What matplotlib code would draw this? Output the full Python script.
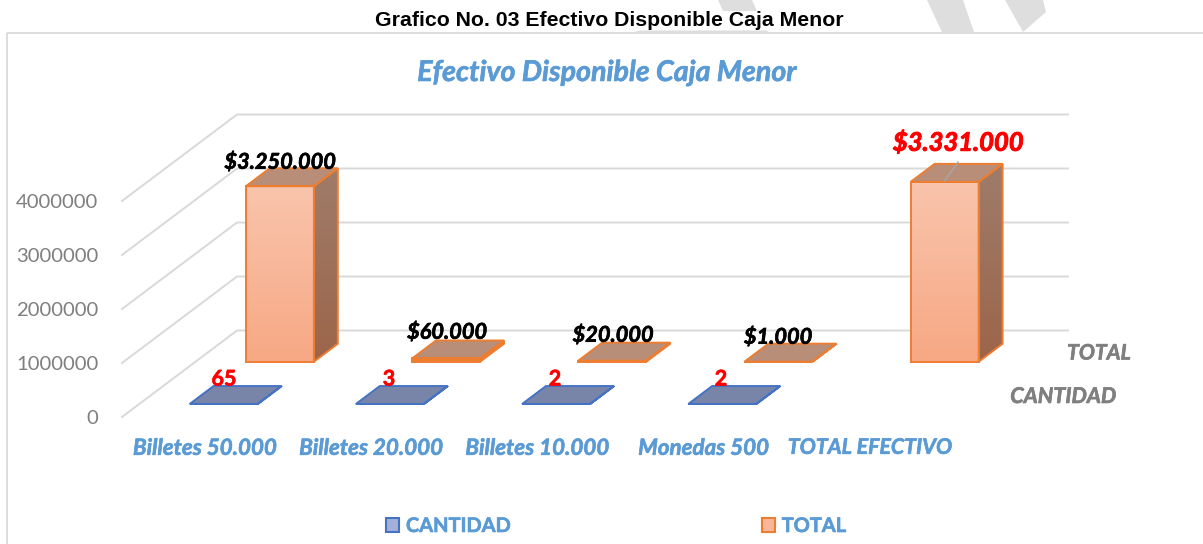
import numpy as np
import matplotlib
matplotlib.use("Agg")
import matplotlib.pyplot as plt
import matplotlib.patheffects as pe
from matplotlib.patches import Polygon, Patch
from matplotlib.colors import LinearSegmentedColormap
from matplotlib.transforms import IdentityTransform

# ---- data ----
categories = ["Billetes 50.000", "Billetes 20.000", "Billetes 10.000", "Monedas 500", "TOTAL EFECTIVO"]
cantidad = [65, 3, 2, 2]
total = [3250000, 60000, 20000, 1000, 3331000]
total_labels = ["$3.250.000", "$60.000", "$20.000", "$1.000", "$3.331.000"]
cantidad_labels = ["65", "3", "2", "2"]
y_ticks = [0, 1000000, 2000000, 3000000, 4000000]
series_names = ["CANTIDAD", "TOTAL"]
title_top = "Grafico No. 03 Efectivo Disponible Caja Menor"
title_chart = "Efectivo Disponible Caja Menor"

W, H = 1203, 544
FONT = "Lato"
BLUE_TXT = "#5B9BD5"
GRAY_TXT = "#7F7F7F"
GRID = "#D9D9D9"


def heavy(color, w=0.45):
    return [pe.withStroke(linewidth=w, foreground=color)]


fig = plt.figure(figsize=(W / 100, H / 100), dpi=100, facecolor="white")

# plot plane (front of the oblique box) in pixels
PX_L, PX_R, PX_BOT, PX_TOP = 122, 953, 417, 201
ax = fig.add_axes([PX_L / W, 1 - PX_BOT / H, (PX_R - PX_L) / W, (PX_BOT - PX_TOP) / H])
ax.set_xlim(0, 5)
ax.set_ylim(0, 4000000)
ax.patch.set_alpha(0)
for s in ax.spines.values():
    s.set_visible(False)

UX = (PX_R - PX_L) / 5            # px per category
UY = (PX_BOT - PX_TOP) / 4000000  # px per value unit
DEPTH_X, DEPTH_Y = 115 / UX, 86.5 / UY


def proj(c, d, v):
    """oblique projection of (category pos, depth 0..1, value) to data coords"""
    return (c + d * DEPTH_X, v + d * DEPTH_Y)


# watermark and frame (page decoration, pixel coordinates)
def px_poly(pts, **kw):
    pts = [(x, H - y) for x, y in pts]
    fig.add_artist(Polygon(pts, closed=True, transform=IdentityTransform(), **kw))


wm = dict(facecolor="#DEDEDE", edgecolor="none", zorder=20)
px_poly([(7, 33), (W + 5, 33), (W + 5, H + 5), (7, H + 5)],
        facecolor="none", edgecolor="#DADADA", linewidth=1.3, zorder=-2)
px_poly([(927, 0), (963, 0), (974, 32), (942, 32)], **wm)
px_poly([(1005, 0), (1043, 0), (1046, 12), (1023, 32)], **wm)
# the piece behind the title is drawn only above and below the lettering
px_poly([(718, 0), (752, 0), (757, 11), (723, 11)], **wm)
px_poly([(640, 30.5), (767, 30.5), (768, 32), (634, 32)], **wm)

# grid: back wall + side wall
for v in y_ticks:
    a = proj(0, 0, v); b = proj(0, 1, v); c = proj(5, 1, v)
    ax.plot([a[0], b[0], c[0]], [a[1], b[1], c[1]], color=GRID, lw=1.4,
            clip_on=False, zorder=1, solid_joinstyle="miter")


def gradient_face(pts, top, bottom, zorder):
    cmap = LinearSegmentedColormap.from_list("g", [bottom, top])
    xs, ys = zip(*pts)
    im = ax.imshow(np.linspace(0, 1, 128).reshape(-1, 1), cmap=cmap, origin="lower",
                   extent=(min(xs), max(xs), min(ys), max(ys)), aspect="auto",
                   zorder=zorder, interpolation="bilinear")
    poly = Polygon(pts, closed=True, transform=ax.transData)
    im.set_clip_path(poly)
    im.set_clip_box(fig.bbox)


def bar3d(i, value, d0, d1, front, side, topc, edge, zorder):
    bw = 68 / UX
    c0 = i + (1 - bw) / 2 + 1.3 / UX
    c1 = c0 + bw
    f = [proj(c0, d0, 0), proj(c1, d0, 0), proj(c1, d0, value), proj(c0, d0, value)]
    s = [proj(c1, d0, 0), proj(c1, d1, 0), proj(c1, d1, value), proj(c1, d0, value)]
    t = [proj(c0, d0, value), proj(c1, d0, value), proj(c1, d1, value), proj(c0, d1, value)]
    if value > 100000:
        gradient_face(f, front[0], front[1], zorder)
        gradient_face(s, side[0], side[1], zorder)
    else:
        ax.add_patch(Polygon(f, closed=True, facecolor=edge, edgecolor="none", zorder=zorder, clip_on=False))
        ax.add_patch(Polygon(s, closed=True, facecolor=edge, edgecolor="none", zorder=zorder, clip_on=False))
    ax.add_patch(Polygon(t, closed=True, facecolor=topc, edgecolor="none", zorder=zorder, clip_on=False))
    for pts in (f, s, t):
        ax.add_patch(Polygon(pts, closed=True, fill=False, edgecolor=edge, lw=1.4,
                             zorder=zorder + 0.1, clip_on=False, joinstyle="miter"))


for i, v in enumerate(total):
    bar3d(i, v, 0.639, 0.847, ("#F9C4AC", "#F7A884"), ("#9F7C69", "#9C654A"), "#B98E79", "#ED7D31", 2 + i * 0.2)
for i, v in enumerate(cantidad):
    bar3d(i, v, 0.15, 0.358, ("#A5B0D8", "#7985A8"), ("#6A7BA8", "#6A7BA8"), "#7985A8", "#4472C4", 4 + i * 0.2)

# axis ticks
ax.set_yticks(y_ticks)
ax.set_yticklabels([str(v) for v in y_ticks], fontsize=14.6, color=GRAY_TXT, family=FONT)
ax.set_xticks(np.arange(5) + 0.5)
ax.set_xticklabels(categories, fontsize=16.1, color=BLUE_TXT, family=FONT,
                   fontweight="bold", fontstyle="italic", path_effects=heavy(BLUE_TXT))
ax.get_xticklabels()[-1].set_fontsize(15.4)
ax.tick_params(axis="y", length=0, pad=17)
ax.tick_params(axis="x", length=0, pad=15)


def ptext(x, y, s, **kw):
    fig.text(x / W, 1 - y / H, s, ha="center", va="center", family=kw.pop("family", FONT), **kw)


# data labels
lab_pos = [(280, 162), (447, 332), (613, 335), (778, 337)]
for (x, y), s in zip(lab_pos, total_labels[:4]):
    ptext(x, y, s, fontsize=15.7, fontweight="bold", fontstyle="italic", color="black", zorder=10,
          path_effects=heavy("black"))
ptext(958, 142, total_labels[4], fontsize=18.4, fontweight="bold", fontstyle="italic", color="#FF0000", zorder=10,
      path_effects=heavy("#FF0000", 0.7))
fig.add_artist(plt.Line2D([944.5 / W, 958 / W], [1 - 181 / H, 1 - 162 / H], color="#A6A6A6", lw=1, zorder=9))
for (x, y), s in zip([(224, 379), (389, 379), (555, 379), (721, 379)], cantidad_labels):
    ptext(x, y, s, fontsize=15.5, fontweight="bold", color="#FF0000", zorder=10, path_effects=heavy("#FF0000"))

# series axis labels
ptext(1099, 353.5, series_names[1], fontsize=15.3, fontweight="bold", fontstyle="italic", color=GRAY_TXT,
      path_effects=heavy(GRAY_TXT))
ptext(1063, 396.5, series_names[0], fontsize=15.6, fontweight="bold", fontstyle="italic", color=GRAY_TXT,
      path_effects=heavy(GRAY_TXT))

# titles
ptext(609, 20, title_top, fontsize=15.3, fontweight="bold", color="black", family="Liberation Sans")
ptext(607, 73, title_chart, fontsize=20.6, fontweight="bold", fontstyle="italic", color=BLUE_TXT,
      path_effects=heavy(BLUE_TXT))

# legend
handles = [Patch(facecolor="#A5B0D8", edgecolor="#4472C4", lw=1.5),
           Patch(facecolor="#F7B79A", edgecolor="#ED7D31", lw=1.5)]
leg = fig.legend(handles, series_names, loc="center", bbox_to_anchor=(616 / W, 1 - 526 / H),
                 ncols=2, frameon=False, handlelength=0.66, handleheight=0.66, handletextpad=0.33,
                 columnspacing=12.55, prop=dict(family=FONT, size=14.4, weight="bold"), labelcolor=BLUE_TXT)
for t in leg.get_texts():
    t.set_path_effects(heavy(BLUE_TXT))

fig.savefig("out.png", dpi=100)
